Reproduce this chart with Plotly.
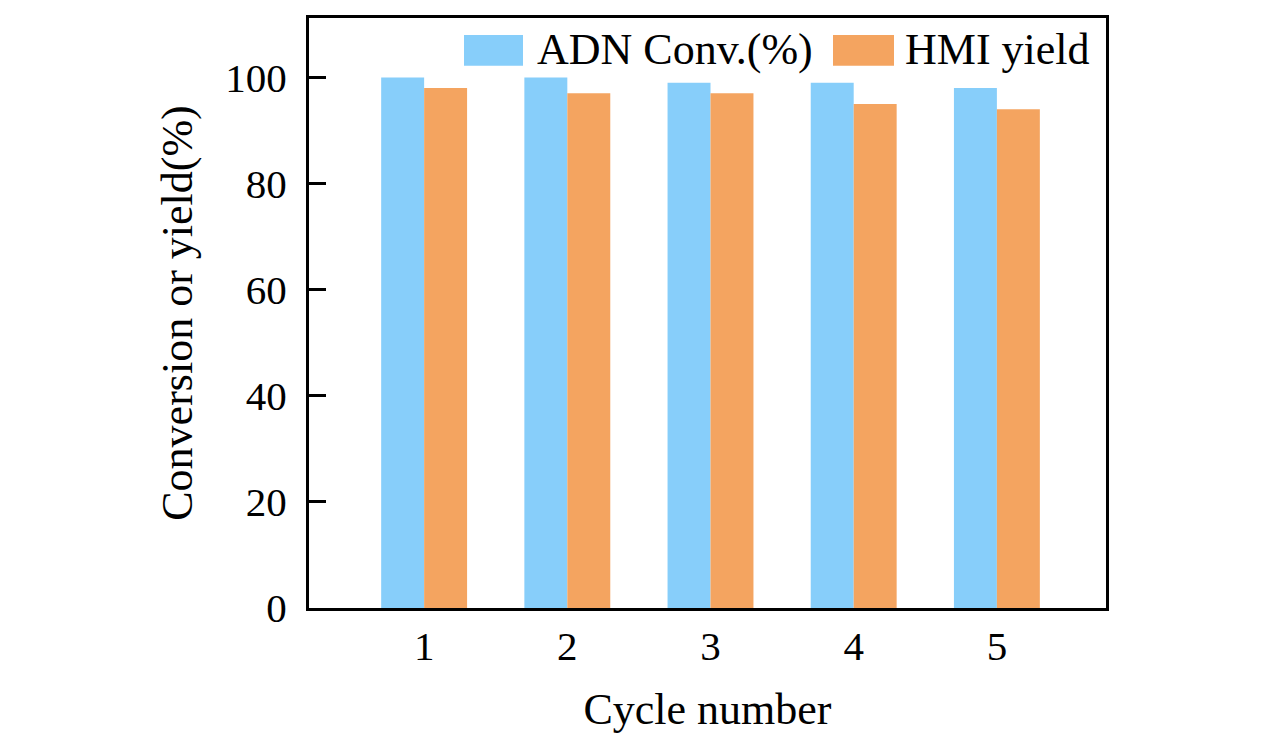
import plotly.graph_objects as go

cycles = [1, 2, 3, 4, 5]
cycle_labels = ["1", "2", "3", "4", "5"]
adn_conv = [100, 100, 99, 99, 98]
hmi_yield = [98, 97, 97, 95, 94]
series_names = ["ADN Conv.(%)", "HMI yield"]
colors = ["#87CEFA", "#F4A460"]

OFF = 8  # page body margin
W, H = 1276 - OFF, 740 - OFF
L, R, T, B = 309 - OFF, 1106 - OFF, 15 - OFF, 608 - OFF

def px(x):
    return (x - OFF - L) / (R - L)

def py(y):
    return (B - (y - OFF)) / (B - T)

font = "Liberation Serif"

fig = go.Figure()
fig.add_bar(x=cycles, y=adn_conv, name=series_names[0], marker_color=colors[0],
            marker_line_width=0, showlegend=False)
fig.add_bar(x=cycles, y=hmi_yield, name=series_names[1], marker_color=colors[1],
            marker_line_width=0, showlegend=False)

# manual legend (large swatches as in the reference)
legend_items = [
    (464, 523, 535, series_names[0], colors[0]),
    (833, 894, 903, series_names[1], colors[1]),
]
shapes = []
annotations = []
for x0, x1, tx, name, col in legend_items:
    shapes.append(dict(type="rect", xref="paper", yref="paper",
                       x0=px(x0), x1=px(x1), y0=py(63), y1=py(32),
                       fillcolor=col, line_width=0))
    annotations.append(dict(xref="paper", yref="paper", x=px(tx), y=py(47),
                            xanchor="left", yanchor="middle", showarrow=False,
                            text=name, font=dict(family=font, size=44, color="black")))

fig.update_layout(
    width=W, height=H,
    margin=dict(l=L, r=W - R, t=T, b=H - B, pad=0),
    paper_bgcolor="white", plot_bgcolor="white",
    barmode="group", bargap=0.4, bargroupgap=0,
    font=dict(family=font, color="black"),
    shapes=shapes, annotations=annotations,
    xaxis=dict(
        range=[0.196, 5.762], tickvals=cycles, ticktext=cycle_labels,
        ticks="", showline=True, linecolor="black", linewidth=3, mirror=True,
        showgrid=False, zeroline=False,
        tickfont=dict(family=font, size=41),
        title=dict(text="Cycle number", font=dict(family=font, size=44), standoff=25),
    ),
    yaxis=dict(
        range=[0, 111.2], tickvals=[0, 20, 40, 60, 80, 100],
        ticks="inside", ticklen=17, tickwidth=3, tickcolor="black",
        showline=True, linecolor="black", linewidth=3, mirror=True,
        showgrid=False, zeroline=False,
        tickfont=dict(family=font, size=41), ticklabelstandoff=11,
        title=dict(text="Conversion or yield(%)", font=dict(family=font, size=44), standoff=19),
    ),
)

fig.write_html("out.html")
